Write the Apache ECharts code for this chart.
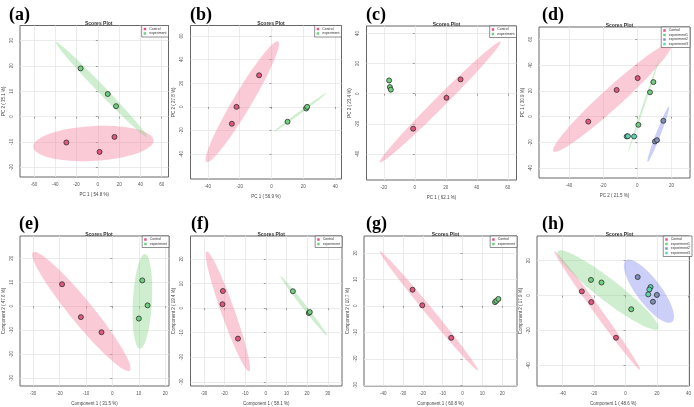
<!DOCTYPE html>
<html><head><meta charset="utf-8">
<script src="https://cdn.jsdelivr.net/npm/echarts@6/dist/echarts.min.js"></script>
<style>html,body{margin:0;padding:0;background:#fff}#c{width:694px;height:407px}</style>
</head><body><div id="c"></div>
<script>
// ---------- data ----------
const groupNames = ['Control', 'experiment', 'experiment1', 'experiment2', 'experiment3'];
// (a)
const aXTicks = [-60, -40, -20, 0, 20, 40, 60];
const aYTicks = [-20, -10, 0, 10, 20, 30];
const aXRange = [-73.2, 66.4];
const aYRange = [-23.8, 35.9];
const aControl = [[-29.6, -10.2], [1.6, -13.9], [15.6, -8.0]];
const aExperiment = [[-16.2, 19.0], [9.3, 8.9], [17.1, 4.1]];
const aControlEll = [-60.7, -11.9, 52.3, -9.3, 0.29];
const aExperimentEll = [-39.6, 29.4, 46.1, -8.0, 0.06];
// (b)
const bXTicks = [-40, -20, 0, 20, 40];
const bYTicks = [-40, -20, 0, 20, 40, 60];
const bXRange = [-50.9, 44.0];
const bYRange = [-61.0, 68.8];
const bControl = [[-7.8, 26.7], [-22.0, 0.0], [-24.9, -14.3]];
const bExperiment = [[10.1, -12.6], [21.8, -1.4], [22.4, 0.0]];
const bControlEll = [4.2, 55.3, -40.9, -46.6, 0.13];
const bExperimentEll = [34.6, 11.8, 1.5, -21.1, 0.04];
// (c)
const cXTicks = [-20, 0, 20, 40, 60];
const cYTicks = [-40, -20, 0, 20, 40];
const cXRange = [-31.2, 65.6];
const cYRange = [-57.2, 44.9];
const cControl = [[-1.1, -23.2], [20.4, -2.7], [29.5, 9.5]];
const cExperiment = [[-16.6, 8.8], [-16.1, 4.4], [-15.5, 2.7]];
const cControlEll = [-22.6, -45.5, 55.3, 34.5, 0.065];
const cExperimentEll = [-16.3, 10.6, -15.3, -2.0, 0.05];
// (d)
const dXTicks = [-40, -20, 0, 20];
const dYTicks = [-40, -20, 0, 20, 40, 60];
const dXRange = [-57.5, 30.8];
const dYRange = [-47.6, 69.4];
const dControl = [[-28.7, -3.9], [-12.1, 20.6], [0.2, 29.8]];
const dExp1 = [[9.4, 26.7], [7.4, 18.8], [0.6, -6.4]];
const dExp2 = [[15.2, -3.3], [10.3, -19.3], [11.5, -18.3]];
const dExp3 = [[-1.9, -15.4], [-6.2, -15.4], [-5.5, -15.2]];
const dControlEll = [-49.1, -27.0, 20.1, 56.6, 0.125];
const dExp1Ell = [-5.5, -27.8, 12.9, 45.0, 0.02];
const dExp2Ell = [6.0, -35.2, 18.5, 7.7, 0.08];
const dExp3Ell = [-9.2, -14.9, 1.2, -15.4, 0.05];
// (e)
const eXTicks = [-30, -20, -10, 0, 10, 20];
const eYTicks = [-30, -20, -10, 0, 10, 20];
const eXRange = [-34.9, 21.4];
const eYRange = [-33.2, 29.3];
const eControl = [[-19.0, 9.2], [-11.9, -4.5], [-4.1, -10.8]];
const eExperiment = [[11.3, 10.8], [13.3, 0.4], [10.0, -5.1]];
const eControlEll = [-30.0, 22.5, 6.6, -26.8, 0.15];
const eExperimentEll = [12.3, 21.8, 10.4, -17.7, 0.2];
// (f)
const fXTicks = [-30, -20, -10, 0, 10, 20, 30];
const fYTicks = [-30, -20, -10, 0, 10, 20];
const fXRange = [-36.5, 36.9];
const fYRange = [-31.7, 29.4];
const fControl = [[-20.8, 7.0], [-21.0, 1.6], [-13.5, -12.4]];
const fExperiment = [[13.1, 6.9], [20.8, -2.0], [21.3, -1.6]];
const fControlEll = [-28.7, 23.1, -8.1, -25.7, 0.105];
const fExperimentEll = [7.1, 13.0, 29.7, -11.2, 0.055];
// (g)
const gXTicks = [-40, -30, -20, -10, 0, 10, 20];
const gYTicks = [-30, -20, -10, 0, 10, 20];
const gXRange = [-49.7, 27.5];
const gYRange = [-30.3, 26.4];
const gControl = [[-25.2, 6.1], [-20.3, 0.2], [-5.7, -12.1]];
const gExperiment = [[16.4, 1.4], [17.1, 1.9], [18.1, 2.6]];
const gControlEll = [-41.7, 20.6, 7.8, -24.4, 0.05];
const gExperimentEll = [15.7, 0.7, 18.6, 3.1, 0.1];
// (h)
const hXTicks = [-40, -20, 0, 20, 40];
const hYTicks = [-40, -20, 0, 20];
const hXRange = [-56.3, 40.6];
const hYRange = [-51.7, 34.1];
const hControl = [[-27.8, 2.4], [-21.8, -3.7], [-6.1, -24.1]];
const hExp1 = [[-22.0, 9.0], [-15.3, 7.5], [3.6, -7.8]];
const hExp2 = [[7.7, 10.6], [19.9, 0.4], [17.4, -3.5]];
const hExp3 = [[15.9, 4.9], [15.1, 3.5], [14.4, 0.7]];
const hControlEll = [-45.2, 25.4, 9.2, -42.4, 0.05];
const hExp1Ell = [-43.1, 25.4, 20.7, -19.0, 0.17];
const hExp2Ell = [0.2, 20.1, 29.5, -15.1, 0.32];

const panelLabels = ['(a)', '(b)', '(c)', '(d)', '(e)', '(f)', '(g)', '(h)'];
const xNames = ['PC 1 ( 54.8 %)', 'PC 1 ( 56.9 %)', 'PC 1 ( 62.1 %)', 'PC 2 ( 21.5 %)',
  'Component 1 ( 31.5 %)', 'Component 1 ( 58.1 %)', 'Component 1 ( 60.8 %)', 'Component 1 ( 48.6 %)'];
const yNames = ['PC 2 ( 35.1 %)', 'PC 2 ( 27.8 %)', 'PC 2 ( 23.4 %)', 'PC 1 ( 30.9 %)',
  'Component 2 ( 47.6 %)', 'Component 2 ( 19.4 %)', 'Component 2 ( 10.7 %)', 'Component 2 ( 17.9 %)'];

// ---------- styles / layout ----------
const pointColor = {Control: '#e2577d', experiment: '#6fcf7f', experiment1: '#6fcf7f', experiment2: '#7f8fb8', experiment3: '#5fd3b0'};
const ellColor = {Control: 'rgba(244,130,160,0.42)', experiment: 'rgba(130,210,130,0.38)', experiment1: 'rgba(130,210,130,0.38)', experiment2: 'rgba(120,130,235,0.38)', experiment3: 'rgba(100,210,190,0.38)'};
const boxes = [
  [19, 25.5, 168.5, 177], [190.5, 25.5, 341.5, 179], [366.5, 26, 516.5, 180], [539, 27, 690, 178],
  [19, 236, 169, 388], [190.5, 236, 342, 388], [364, 236, 517, 388], [537, 236, 692, 389]
];
const labelLeft = [4, 185, 361, 537, 14, 186, 361, 537];

const panels = [
  {xt: aXTicks, yt: aYTicks, xr: aXRange, yr: aYRange, groups: [['Control', aControl, aControlEll], ['experiment', aExperiment, aExperimentEll]]},
  {xt: bXTicks, yt: bYTicks, xr: bXRange, yr: bYRange, groups: [['Control', bControl, bControlEll], ['experiment', bExperiment, bExperimentEll]]},
  {xt: cXTicks, yt: cYTicks, xr: cXRange, yr: cYRange, groups: [['Control', cControl, cControlEll], ['experiment', cExperiment, cExperimentEll]]},
  {xt: dXTicks, yt: dYTicks, xr: dXRange, yr: dYRange, groups: [['Control', dControl, dControlEll], ['experiment1', dExp1, dExp1Ell], ['experiment2', dExp2, dExp2Ell], ['experiment3', dExp3, dExp3Ell]]},
  {xt: eXTicks, yt: eYTicks, xr: eXRange, yr: eYRange, groups: [['Control', eControl, eControlEll], ['experiment', eExperiment, eExperimentEll]]},
  {xt: fXTicks, yt: fYTicks, xr: fXRange, yr: fYRange, groups: [['Control', fControl, fControlEll], ['experiment', fExperiment, fExperimentEll]]},
  {xt: gXTicks, yt: gYTicks, xr: gXRange, yr: gYRange, groups: [['Control', gControl, gControlEll], ['experiment', gExperiment, gExperimentEll]]},
  {xt: hXTicks, yt: hYTicks, xr: hXRange, yr: hYRange, groups: [['Control', hControl, hControlEll], ['experiment1', hExp1, hExp1Ell], ['experiment2', hExp2, hExp2Ell], ['experiment3', hExp3, null]]}
];

const W = 694, H = 407;
const grid = [], xAxis = [], yAxis = [], series = [], title = [], legend = [];
const tickFont = {fontSize: 4.5, color: '#555', fontFamily: 'Liberation Sans'};

panels.forEach((p, i) => {
  const [l, t, r, b] = boxes[i];
  grid.push({left: l, top: t, width: r - l, height: b - t, show: true, borderColor: '#666', borderWidth: 1, backgroundColor: 'transparent'});
  const common = {
    gridIndex: i, type: 'value', nameLocation: 'middle',
    axisLine: {show: false},
    axisTick: {show: true, length: 2, lineStyle: {color: '#666', width: 0.6}},
    splitLine: {show: true, lineStyle: {color: '#e6e6e6', width: 0.8}},
    nameTextStyle: {fontSize: 4.5, color: '#444', fontFamily: 'Liberation Sans'}
  };
  xAxis.push(Object.assign({}, common, {
    min: p.xr[0], max: p.xr[1], name: xNames[i], nameGap: 15,
    axisTick: Object.assign({}, common.axisTick, {customValues: p.xt}),
    axisLabel: Object.assign({customValues: p.xt, margin: 5}, tickFont)
  }));
  yAxis.push(Object.assign({}, common, {
    min: p.yr[0], max: p.yr[1], name: yNames[i], nameGap: 14,
    axisTick: Object.assign({}, common.axisTick, {customValues: p.yt}),
    axisLabel: Object.assign({customValues: p.yt, margin: 6, rotate: 90}, tickFont)
  }));
  p.groups.forEach(([name, pts, ell]) => {
    if (ell) {
      series.push({
        type: 'custom', name: name, xAxisIndex: i, yAxisIndex: i, silent: true, z: 1,
        itemStyle: {color: pointColor[name]},
        data: [ell],
        dimensions: ['x1', 'y1', 'x2', 'y2', 'r'],
        encode: {x: [0, 2], y: [1, 3]},
        renderItem: (params, api) => {
          const a = api.coord([api.value(0), api.value(1)]);
          const c2 = api.coord([api.value(2), api.value(3)]);
          const cx = (a[0] + c2[0]) / 2, cy = (a[1] + c2[1]) / 2;
          const ux = c2[0] - cx, uy = c2[1] - cy;
          const rr = api.value(4);
          const vx = -uy * rr, vy = ux * rr;
          const ptsP = [];
          for (let k = 0; k < 90; k++) {
            const th = k / 90 * Math.PI * 2;
            ptsP.push([cx + ux * Math.cos(th) + vx * Math.sin(th), cy + uy * Math.cos(th) + vy * Math.sin(th)]);
          }
          return {type: 'polygon', shape: {points: ptsP}, style: {fill: ellColor[name], stroke: null}};
        }
      });
    }
    series.push({
      type: 'scatter', name: name, xAxisIndex: i, yAxisIndex: i, z: 3,
      symbol: 'circle', symbolSize: 5,
      itemStyle: {color: pointColor[name], borderColor: '#2f2f2f', borderWidth: 0.8, opacity: 1},
      data: pts
    });
  });
  const cxm = (l + r) / 2;
  title.push({text: 'Scores Plot', left: cxm, top: t - 9, textAlign: 'center',
    textStyle: {fontSize: 5, fontWeight: 'bold', color: '#333', fontFamily: 'Liberation Sans'}});
  title.push({text: panelLabels[i], left: labelLeft[i], top: i < 4 ? 1 : 210,
    textStyle: {fontSize: 18, fontWeight: 'bold', color: '#000', fontFamily: 'Liberation Serif'}});
  legend.push({
    orient: 'vertical', right: W - r, top: t, padding: [1.5, 2, 1.5, 2], itemGap: 0.5,
    backgroundColor: '#fff', borderColor: '#444', borderWidth: 0.6, borderRadius: 0,
    icon: 'rect', itemWidth: 2.5, itemHeight: 2.5, selectedMode: false,
    textStyle: {fontSize: 3.5, color: '#333', fontFamily: 'Liberation Sans', padding: [0, 0, 0, -2]},
    data: p.groups.map(g => ({name: g[0], itemStyle: {color: pointColor[g[0]], borderWidth: 0}}))
  });
});

const chart = echarts.init(document.getElementById('c'), null, {renderer: 'canvas'});
chart.setOption({animation: false, backgroundColor: '#fff', title, legend, grid, xAxis, yAxis, series});
</script></body></html>
